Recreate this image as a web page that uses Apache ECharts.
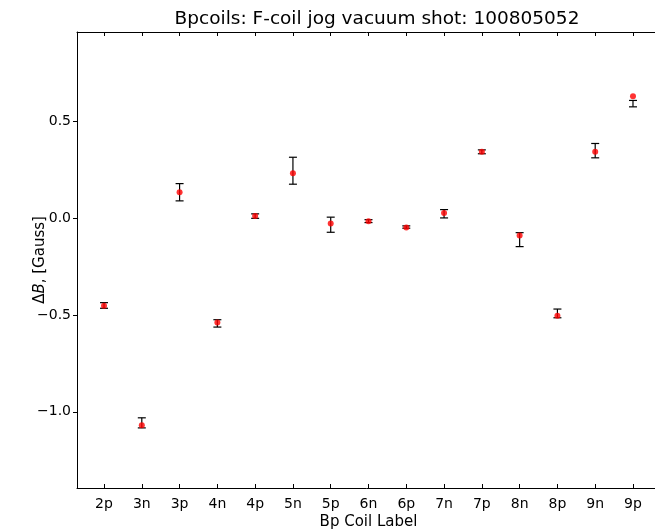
<!DOCTYPE html>
<html>
<head>
<meta charset="utf-8">
<script src="https://cdn.jsdelivr.net/npm/echarts@6/dist/echarts.min.js"></script>
<style>html,body{margin:0;padding:0;background:#fff}#c{width:655px;height:531px}</style>
</head>
<body>
<div id="c"></div>
<script>
// Data
const categories = ['2p','3n','3p','4n','4p','5n','5p','6n','6p','7n','7p','8n','8p','9n','9p'];
const values     = [-0.453,-1.069,0.133,-0.539,0.010,0.231,-0.029,-0.017,-0.050,0.026,0.341,-0.091,-0.505,0.341,0.627];
const errLow     = [-0.466,-1.083,0.088,-0.563,-0.002,0.174,-0.074,-0.024,-0.053,0.000,0.331,-0.148,-0.515,0.310,0.573];
const errHigh    = [-0.437,-1.031,0.177,-0.525,0.021,0.313,0.004,-0.009,-0.041,0.043,0.351,-0.076,-0.470,0.384,0.606];
const yTicks     = [-1.0,-0.5,0.0,0.5];

const xPos = categories.map((c,i)=>i+1);
const pointData = values.map((v,i)=>[xPos[i], v]);
const errData = values.map((v,i)=>[xPos[i], errLow[i], errHigh[i]]);

const font = 'DejaVu Sans';
const chart = echarts.init(document.getElementById('c'), null, {renderer:'canvas'});
chart.setOption({
  animation:false,
  backgroundColor:'#fff',
  title:{
    text:'Bpcoils: F-coil jog vacuum shot: 100805052',
    left:372, top:5, textAlign:'center',
    textStyle:{fontFamily:font,fontSize:18.5,fontWeight:'normal',color:'#000'}
  },
  grid:{left:77, top:32, right:-5, bottom:43, containLabel:false, outerBoundsMode:'none'},
  xAxis:[{
    type:'value', min:0.285, max:15.715, position:'bottom',
    name:'Bp Coil Label', nameLocation:'middle', nameGap:27, nameMoveOverlap:false,
    nameTextStyle:{fontFamily:font,fontSize:15,color:'#000'},
    axisLine:{show:true,onZero:false,lineStyle:{color:'#000',width:1}},
    axisTick:{show:true,inside:true,length:4,customValues:xPos,lineStyle:{color:'#000'}},
    axisLabel:{show:true,customValues:xPos,margin:9,fontFamily:font,fontSize:14,color:'#000',
      formatter:(v)=>categories[Math.round(v)-1]||''},
    splitLine:{show:false}
  },{
    type:'value', min:0.285, max:15.715, position:'top',
    axisLine:{show:true,onZero:false,lineStyle:{color:'#000',width:1}},
    axisTick:{show:true,inside:true,length:4,customValues:xPos,lineStyle:{color:'#000'}},
    axisLabel:{show:false},
    splitLine:{show:false}
  }],
  yAxis:[{
    type:'value', min:-1.393, max:0.959,
    name:'\u0394{i|B}, [Gauss]', nameLocation:'middle', nameGap:37, nameRotate:90, nameMoveOverlap:false,
    nameTextStyle:{fontFamily:font,fontSize:15,color:'#000',verticalAlign:'middle',
      rich:{i:{fontFamily:font,fontSize:15,fontStyle:'italic',color:'#000'}}},
    axisLine:{show:true,onZero:false,lineStyle:{color:'#000',width:1}},
    axisTick:{show:true,inside:false,length:4,customValues:yTicks,lineStyle:{color:'#000'}},
    axisLabel:{show:true,customValues:yTicks,margin:6,fontFamily:font,fontSize:14,color:'#000',
      formatter:(v)=>{const s=Math.abs(v).toFixed(1);return (v<-1e-9?'\u2212':'')+s;}},
    splitLine:{show:false}
  }],
  series:[{
    type:'custom',
    data:errData,
    z:2,
    renderItem:function(params, api){
      const x = api.value(0);
      const lo = api.coord([x, api.value(1)]);
      const hi = api.coord([x, api.value(2)]);
      const hw = 4;
      const st = {stroke:'#000', lineWidth:1.2};
      return {type:'group',children:[
        {type:'line',shape:{x1:lo[0],y1:lo[1],x2:hi[0],y2:hi[1]},style:st},
        {type:'line',shape:{x1:lo[0]-hw,y1:lo[1],x2:lo[0]+hw,y2:lo[1]},style:st},
        {type:'line',shape:{x1:hi[0]-hw,y1:hi[1],x2:hi[0]+hw,y2:hi[1]},style:st}
      ]};
    }
  },{
    type:'scatter',
    data:pointData,
    symbol:'circle', symbolSize:6,
    itemStyle:{color:'#ff0000'},
    z:3
  }]
});
</script>
</body>
</html>
